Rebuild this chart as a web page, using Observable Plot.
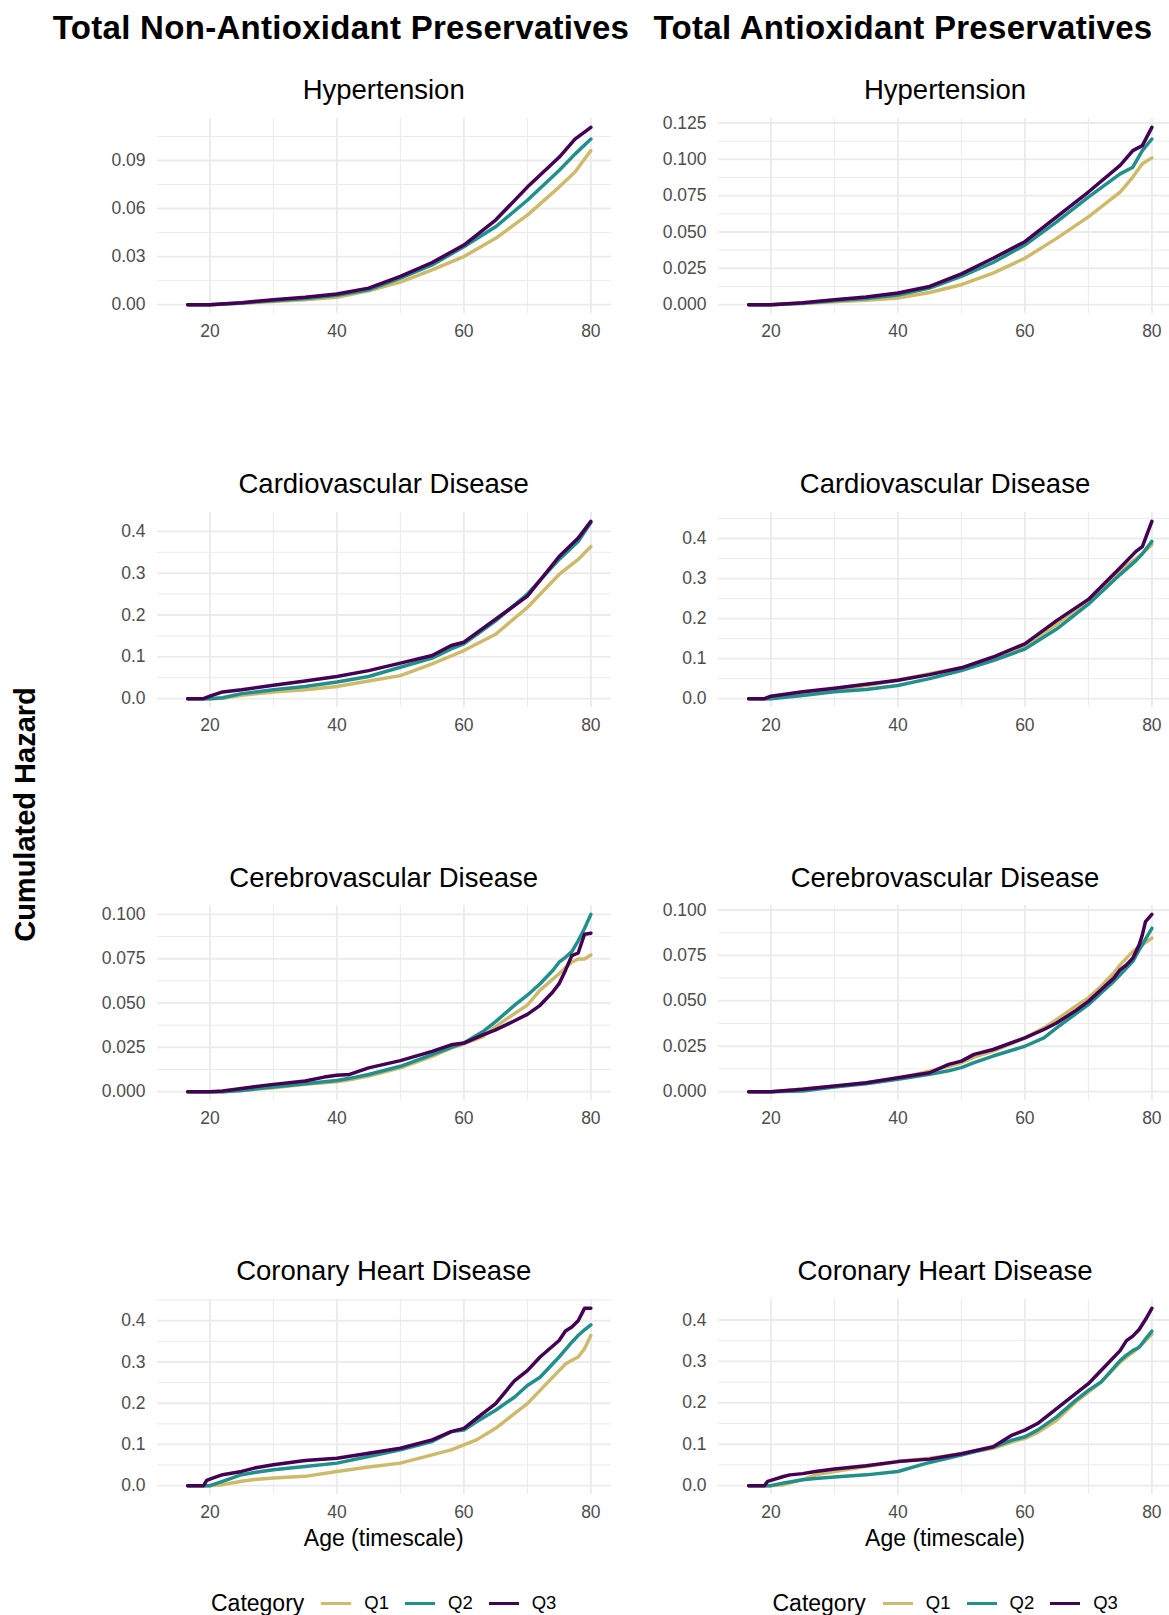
<!DOCTYPE html>
<html><head><meta charset="utf-8">
<script src="https://cdn.jsdelivr.net/npm/d3@7"></script>
<script src="https://cdn.jsdelivr.net/npm/@observablehq/plot@0.6"></script>
<style>
body{margin:0;background:#fff;}
#root{position:relative;width:1169px;height:1615px;font-family:"Liberation Sans",Arial,Helvetica,sans-serif;overflow:hidden;}
.t{position:absolute;white-space:nowrap;line-height:1;}
.leg{position:absolute;display:flex;align-items:center;white-space:nowrap;}
</style></head><body><div id="root"></div>
<script>
// ---------------- data ----------------
const categories = ["Q1", "Q2", "Q3"];
const colors = ["#CDBA6A", "#21908C", "#440154"];
const columnTitles = ["Total Non-Antioxidant Preservatives", "Total Antioxidant Preservatives"];
const diseases = ["Hypertension", "Cardiovascular Disease", "Cerebrovascular Disease", "Coronary Heart Disease"];
const yAxisTitle = "Cumulated Hazard";
const xAxisTitle = "Age (timescale)";
const legendTitle = "Category";
const xTicks = [20, 40, 60, 80];
const xMinorTicks = [30, 50, 70];

const yTicksHypNon = [0, 0.03, 0.06, 0.09];
const yTicksHypAnti = [0, 0.025, 0.05, 0.075, 0.1, 0.125];
const yTicksCardio = [0, 0.1, 0.2, 0.3, 0.4];
const yTicksCerebro = [0, 0.025, 0.05, 0.075, 0.1];
const yTicksChd = [0, 0.1, 0.2, 0.3, 0.4];

// Non-antioxidant: Hypertension
const nonHypAges = [16.5, 20, 25, 30, 35, 40, 45, 50, 55, 60, 65, 70, 75, 77.5, 80];
const nonHypQ1 = [0, 0, 0.0008, 0.002, 0.0031, 0.0046, 0.0087, 0.0141, 0.0217, 0.030, 0.0414, 0.0559, 0.0734, 0.0828, 0.0962];
const nonHypQ2 = [0, 0, 0.001, 0.0025, 0.0039, 0.0058, 0.0093, 0.0166, 0.0248, 0.0362, 0.0486, 0.0652, 0.0838, 0.094, 0.1034];
const nonHypQ3 = [0, 0, 0.0012, 0.0031, 0.0046, 0.0066, 0.0103, 0.0176, 0.0263, 0.0372, 0.0528, 0.0734, 0.092, 0.1034, 0.1107];

// Antioxidant: Hypertension
const antiHypAges = [16.5, 20, 25, 30, 35, 40, 45, 50, 55, 60, 65, 70, 75, 77, 78.5, 80];
const antiHypQ1 = [0, 0, 0.0008, 0.002, 0.003, 0.0046, 0.0084, 0.0137, 0.0217, 0.0319, 0.0456, 0.0604, 0.0775, 0.0878, 0.097, 0.101];
const antiHypQ2 = [0, 0, 0.001, 0.0027, 0.0043, 0.0066, 0.0114, 0.0194, 0.029, 0.041, 0.057, 0.074, 0.090, 0.0946, 0.106, 0.114];
const antiHypQ3 = [0, 0, 0.0013, 0.0034, 0.0053, 0.008, 0.0125, 0.0212, 0.0319, 0.0433, 0.0604, 0.0775, 0.0958, 0.106, 0.1094, 0.122];

// Non-antioxidant: Cardiovascular
const nonCvdAges = [16.5, 19, 20, 22, 25, 30, 35, 40, 45, 50, 55, 58, 60, 65, 70, 75, 78, 80];
const nonCvdQ1 = [0, 0, 0, 0.001, 0.008, 0.016, 0.021, 0.029, 0.042, 0.055, 0.083, 0.102, 0.115, 0.154, 0.218, 0.297, 0.333, 0.364];
const nonCvdQ2 = [0, 0, 0, 0.002, 0.012, 0.021, 0.029, 0.04, 0.053, 0.075, 0.097, 0.119, 0.131, 0.186, 0.25, 0.333, 0.376, 0.421];
const nonCvdQ3 = [0, 0, 0.006, 0.016, 0.021, 0.032, 0.042, 0.053, 0.067, 0.085, 0.103, 0.127, 0.135, 0.19, 0.245, 0.34, 0.384, 0.424];

// Antioxidant: Cardiovascular
const antiCvdAges = [16.5, 19, 20, 25, 30, 35, 40, 45, 50, 55, 60, 65, 70, 75, 77.5, 78.5, 80];
const antiCvdQ1 = [0, 0, 0, 0.012, 0.022, 0.033, 0.046, 0.062, 0.077, 0.099, 0.132, 0.186, 0.244, 0.319, 0.35, 0.362, 0.385];
const antiCvdQ2 = [0, 0, 0, 0.008, 0.017, 0.023, 0.033, 0.05, 0.07, 0.095, 0.124, 0.174, 0.236, 0.31, 0.345, 0.362, 0.393];
const antiCvdQ3 = [0, 0, 0.006, 0.017, 0.026, 0.036, 0.046, 0.06, 0.077, 0.104, 0.137, 0.195, 0.248, 0.327, 0.368, 0.38, 0.443];

// Non-antioxidant: Cerebrovascular
const nonCebAges = [16.5, 20, 22, 25, 30, 35, 38, 40, 42, 45, 50, 55, 58, 60, 63, 65, 68, 70, 72, 74, 75, 76, 77, 78, 79, 80];
const nonCebQ1 = [0, 0, 0, 0.0007, 0.0022, 0.0041, 0.005, 0.0056, 0.0067, 0.0088, 0.0134, 0.0199, 0.0245, 0.027, 0.031, 0.0367, 0.0441, 0.0488, 0.0572, 0.0635, 0.0665, 0.070, 0.073, 0.0748, 0.0748, 0.0771];
const nonCebQ2 = [0, 0, 0, 0.0007, 0.0026, 0.0045, 0.0056, 0.0063, 0.0075, 0.0097, 0.0143, 0.0209, 0.025, 0.0274, 0.0339, 0.0395, 0.0488, 0.0544, 0.0609, 0.0683, 0.073, 0.0758, 0.079, 0.0851, 0.092, 0.1];
const nonCebQ3 = [0, 0, 0.0003, 0.0018, 0.0041, 0.006, 0.0082, 0.0093, 0.0097, 0.0134, 0.0175, 0.0227, 0.0264, 0.0274, 0.032, 0.0348, 0.040, 0.0436, 0.0487, 0.0562, 0.0609, 0.0684, 0.0767, 0.0782, 0.0888, 0.0894];

// Antioxidant: Cerebrovascular
const antiCebAges = [16.5, 20, 25, 30, 35, 40, 45, 48, 50, 52, 55, 60, 63, 65, 68, 70, 72, 74, 75, 76, 77, 78, 78.5, 79, 80];
const antiCebQ1 = [0, 0, 0.0015, 0.0029, 0.0048, 0.0073, 0.0113, 0.014, 0.0159, 0.019, 0.0223, 0.0296, 0.0351, 0.0397, 0.047, 0.0516, 0.058, 0.0653, 0.0698, 0.0735, 0.0771, 0.0799, 0.081, 0.082, 0.0845];
const antiCebQ2 = [0, 0, 0.0004, 0.0026, 0.0044, 0.0068, 0.0095, 0.0115, 0.0132, 0.016, 0.0196, 0.025, 0.0296, 0.0351, 0.0428, 0.0479, 0.0543, 0.0607, 0.0643, 0.068, 0.0717, 0.078, 0.081, 0.084, 0.0899];
const antiCebQ3 = [0, 0, 0.0013, 0.0031, 0.0049, 0.0077, 0.0104, 0.015, 0.0168, 0.0205, 0.0232, 0.0296, 0.0342, 0.0378, 0.0446, 0.0497, 0.0561, 0.0625, 0.0671, 0.0698, 0.0735, 0.0808, 0.0863, 0.0936, 0.0976];

// Non-antioxidant: Coronary heart disease
const nonChdAges = [16.5, 19, 19.5, 20, 22, 25, 27, 30, 35, 40, 45, 50, 55, 58, 60, 62, 65, 68, 70, 72, 75, 76, 77, 78, 79, 80];
const nonChdQ1 = [0, 0, 0, 0, 0.0024, 0.0104, 0.015, 0.0185, 0.0225, 0.0345, 0.045, 0.0546, 0.0747, 0.0867, 0.0988, 0.111, 0.139, 0.175, 0.199, 0.231, 0.279, 0.295, 0.304, 0.312, 0.332, 0.364];
const nonChdQ2 = [0, 0, 0, 0, 0.0104, 0.0265, 0.032, 0.0385, 0.0466, 0.0546, 0.0707, 0.0867, 0.107, 0.131, 0.135, 0.155, 0.183, 0.215, 0.243, 0.263, 0.312, 0.33, 0.348, 0.364, 0.378, 0.39];
const nonChdQ3 = [0, 0, 0.013, 0.016, 0.0265, 0.0345, 0.0426, 0.0506, 0.061, 0.0666, 0.0787, 0.0907, 0.111, 0.131, 0.139, 0.163, 0.199, 0.255, 0.279, 0.312, 0.352, 0.375, 0.385, 0.4, 0.43, 0.43];

// Antioxidant: Coronary heart disease
const antiChdAges = [16.5, 19, 19.5, 20, 22, 23, 25, 27, 30, 35, 40, 45, 50, 55, 58, 60, 62, 65, 68, 70, 72, 75, 76, 77, 78, 79, 80];
const antiChdQ1 = [0, 0, 0, 0, 0.0024, 0.007, 0.0144, 0.026, 0.034, 0.046, 0.058, 0.066, 0.077, 0.09, 0.106, 0.114, 0.128, 0.158, 0.202, 0.226, 0.25, 0.298, 0.31, 0.322, 0.334, 0.35, 0.366];
const antiChdQ2 = [0, 0, 0, 0, 0.0064, 0.009, 0.0144, 0.017, 0.0207, 0.026, 0.034, 0.056, 0.074, 0.093, 0.11, 0.118, 0.134, 0.166, 0.206, 0.23, 0.25, 0.302, 0.315, 0.326, 0.334, 0.354, 0.373];
const antiChdQ3 = [0, 0, 0.0104, 0.0128, 0.022, 0.026, 0.029, 0.034, 0.04, 0.048, 0.058, 0.064, 0.077, 0.094, 0.122, 0.134, 0.15, 0.186, 0.222, 0.246, 0.278, 0.326, 0.35, 0.361, 0.377, 0.401, 0.428];

// ---------------- layout ----------------
const panels = [
  {col: 0, row: 0, ages: nonHypAges, series: [nonHypQ1, nonHypQ2, nonHypQ3], yTicks: yTicksHypNon, fmt: ".2f"},
  {col: 1, row: 0, ages: antiHypAges, series: [antiHypQ1, antiHypQ2, antiHypQ3], yTicks: yTicksHypAnti, fmt: ".3f"},
  {col: 0, row: 1, ages: nonCvdAges, series: [nonCvdQ1, nonCvdQ2, nonCvdQ3], yTicks: yTicksCardio, fmt: ".1f"},
  {col: 1, row: 1, ages: antiCvdAges, series: [antiCvdQ1, antiCvdQ2, antiCvdQ3], yTicks: yTicksCardio, fmt: ".1f"},
  {col: 0, row: 2, ages: nonCebAges, series: [nonCebQ1, nonCebQ2, nonCebQ3], yTicks: yTicksCerebro, fmt: ".3f"},
  {col: 1, row: 2, ages: antiCebAges, series: [antiCebQ1, antiCebQ2, antiCebQ3], yTicks: yTicksCerebro, fmt: ".3f"},
  {col: 0, row: 3, ages: nonChdAges, series: [nonChdQ1, nonChdQ2, nonChdQ3], yTicks: yTicksChd, fmt: ".1f"},
  {col: 1, row: 3, ages: antiChdAges, series: [antiChdQ1, antiChdQ2, antiChdQ3], yTicks: yTicksChd, fmt: ".1f"}
];

const root = document.getElementById("root");
const FONT = '"Liberation Sans", Arial, Helvetica, sans-serif';
const panelLeft = [156.7, 718];
const panelWidth = [454, 454];
const panelTop = [118, 511.7, 905.3, 1299];
const panelH = 195;
const ML = 70, MB = 35;
const GRID = "#EBEBEB";

function addText(str, x, baseline, size, weight, anchor, color, extra) {
  const d = document.createElement("div");
  d.className = "t";
  d.textContent = str;
  d.style.fontSize = size + "px";
  d.style.fontWeight = weight;
  d.style.color = color || "#000";
  d.style.top = (baseline - 0.8465 * size) + "px";
  if (extra) Object.assign(d.style, extra);
  root.appendChild(d);
  const w = d.getBoundingClientRect().width;
  const left = anchor === "middle" ? x - w / 2 : anchor === "end" ? x - w : x;
  d.style.left = left + "px";
  return d;
}

// column titles
addText(columnTitles[0], 341, 38.5, 33, "bold", "middle", "#000", {letterSpacing: "0.3px"});
addText(columnTitles[1], 903, 38.5, 33, "bold", "middle", "#000", {letterSpacing: "0.3px"});

// y axis title (rotated)
{
  const d = document.createElement("div");
  d.className = "t";
  d.textContent = yAxisTitle;
  d.style.fontSize = "29px";
  d.style.fontWeight = "bold";
  root.appendChild(d);
  const r = d.getBoundingClientRect();
  d.style.left = (25 - r.width / 2) + "px";
  d.style.top = (814 - r.height / 2) + "px";
  d.style.transform = "rotate(-90deg)";
}

panels.forEach(p => {
  const data = [];
  categories.forEach((c, k) => p.ages.forEach((a, i) => data.push({age: a, value: p.series[k][i], cat: c})));
  const M = d3.max(data, d => d.value);
  const yDom = [-0.05 * M, 1.05 * M];
  const step = p.yTicks[1] - p.yTicks[0];
  const minorY = d3.range(0, p.yTicks.length + 1).map(i => p.yTicks[0] + step * (i + 0.5)).filter(v => v <= yDom[1]);
  const w = panelWidth[p.col];
  const svg = Plot.plot({
    width: ML + w, height: panelH + MB,
    marginLeft: ML, marginRight: 0, marginTop: 0, marginBottom: MB,
    x: {domain: [11.75, 83.25], ticks: xTicks, tickSize: 0, tickPadding: 11, label: null},
    y: {domain: yDom, ticks: p.yTicks, tickFormat: d3.format(p.fmt), tickSize: 0, tickPadding: 12, label: null},
    color: {domain: categories, range: colors},
    style: {fontSize: "17.5px", fontFamily: FONT, color: "#4D4D4D", background: "transparent", overflow: "visible"},
    marks: [
      Plot.ruleX(xMinorTicks, {stroke: GRID, strokeWidth: 1}),
      Plot.ruleY(minorY, {stroke: GRID, strokeWidth: 1}),
      Plot.ruleX(xTicks, {stroke: GRID, strokeWidth: 1.9}),
      Plot.ruleY(p.yTicks, {stroke: GRID, strokeWidth: 1.9}),
      Plot.line(data, {x: "age", y: "value", z: "cat", stroke: "cat", strokeWidth: 3.5})
    ]
  });
  svg.style.position = "absolute";
  svg.style.left = (panelLeft[p.col] - ML) + "px";
  svg.style.top = panelTop[p.row] + "px";
  root.appendChild(svg);
  addText(diseases[p.row], panelLeft[p.col] + w / 2, panelTop[p.row] - 18.5, 27.5, "normal", "middle", "#000");
});

// x axis titles
addText(xAxisTitle, panelLeft[0] + panelWidth[0] / 2, 1546, 23, "normal", "middle", "#000");
addText(xAxisTitle, panelLeft[1] + panelWidth[1] / 2, 1546, 23, "normal", "middle", "#000");

// legends
function addLegend(x) {
  const L = document.createElement("div");
  L.className = "leg";
  L.style.left = x + "px";
  L.style.top = (1603 - 15) + "px";
  L.style.height = "30px";
  const title = document.createElement("span");
  title.textContent = legendTitle;
  title.style.fontSize = "23px";
  title.style.marginRight = "17px";
  L.appendChild(title);
  categories.forEach((c, i) => {
    const sw = document.createElement("span");
    sw.style.display = "inline-block";
    sw.style.width = "30px";
    sw.style.height = "3px";
    sw.style.background = colors[i];
    sw.style.marginRight = "13px";
    L.appendChild(sw);
    const lab = document.createElement("span");
    lab.textContent = c;
    lab.style.fontSize = "18.5px";
    lab.style.marginRight = "16px";
    L.appendChild(lab);
  });
  root.appendChild(L);
}
addLegend(211);
addLegend(772.5);
</script>
</body></html>
